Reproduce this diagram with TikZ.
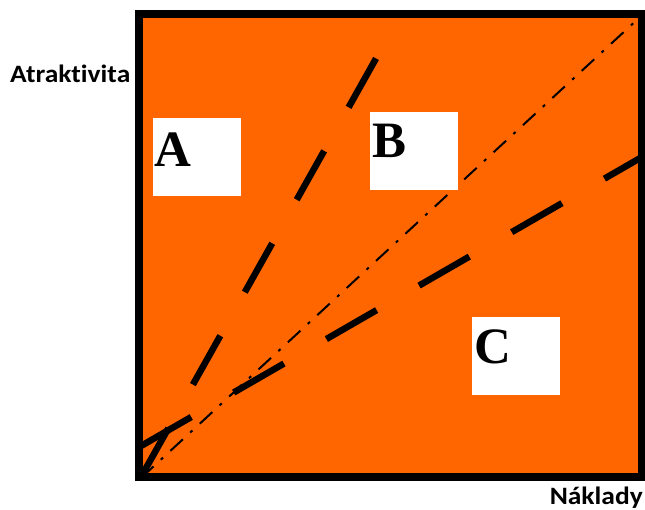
\documentclass[tikz,border=0pt]{standalone}
\usepackage{fontspec}
\setmainfont{Liberation Serif}
\newfontfamily\axisfont[Ligatures=NoCommon]{Carlito}
\definecolor{bgorange}{RGB}{255,102,0}
\begin{document}
\begin{tikzpicture}[x=1pt,y=-1pt,
  thickdash/.style={line width=6.5pt, black, line cap=butt},
  dashdot/.style={line width=2pt, black, dash pattern=on 17pt off 10pt on 3pt off 10pt},
  region/.style={fill=white, draw=none, minimum width=88pt, minimum height=78pt, inner sep=0pt, anchor=north west},
  letter/.style={font=\bfseries\fontsize{51}{51}\selectfont, inner sep=0pt, anchor=base west},
  axislabel/.style={font=\axisfont\bfseries\fontsize{25}{25}\selectfont, inner sep=0pt, xscale=1.1}]
\useasboundingbox (0,0) rectangle (645,510);
\fill[bgorange] (139,14) rectangle (642,477);
% line end points
\coordinate (steepA) at (141,477);
\coordinate (steepB) at (401,14);
\coordinate (flatA) at (141,446);
\coordinate (flatB) at (642,157);
\coordinate (diagA) at (141,478);
\coordinate (diagB) at (640,17);
\draw[dashdot] (diagA) -- (diagB);
\draw[thickdash, dash pattern=on 56pt off 50pt] (steepA) -- (steepB);
\draw[thickdash, dash pattern=on 58pt off 49pt] (flatA) -- (flatB);
% regions
\node[region] (boxA) at (153,118) {};
\node[region] (boxB) at (370,112) {};
\node[region] (boxC) at (472,317) {};
\node[letter] (labA) at (154,167) {A};
\node[letter] (labB) at (372,158) {B};
\node[letter] (labC) at (474,363) {C};
% frame
\draw[line width=8.5pt] (139,14) rectangle (642,477);
% axis labels
\node[axislabel, anchor=base west] (yl) at (10,83) {Atraktivita};
\node[axislabel, anchor=base east] (xl) at (643,504) {Náklady};
\end{tikzpicture}
\end{document}
